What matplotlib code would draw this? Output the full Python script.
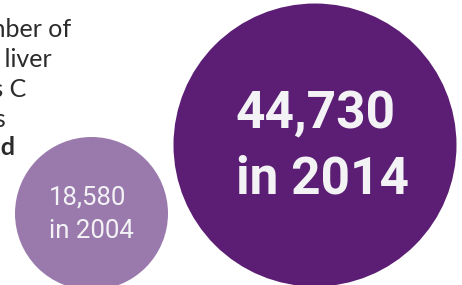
import matplotlib.pyplot as plt
from matplotlib.patches import Circle

# data
years = [2004, 2014]
deaths = [18580, 44730]

# intro text (cut off at left edge in the original)
intro_lines = ["The number of", "deaths from liver", "cancer and hepatitis C", "deaths has", "more than doubled"]
intro_bold = [False, False, False, False, True]

W, H = 462, 285
fig = plt.figure(figsize=(W / 100, H / 100), dpi=100)
ax = fig.add_axes([0, 0, 1, 1])
ax.set_xlim(0, W)
ax.set_ylim(H, 0)
ax.set_aspect('equal')
ax.axis('off')

# layout for each bubble: centre, radius, colour, text style
bubbles = [
    dict(cx=91.5, cy=213.5, r=76.5, color='#9a7aad', tx=49, base=(205, 238),
         size=18.5, weight='normal'),
    dict(cx=315, cy=145, r=141.5, color='#5b1e74', tx=236, base=(128, 193),
         size=37, weight='bold'),
]

for b, yr, n in zip(bubbles, years, deaths):
    ax.add_patch(Circle((b['cx'], b['cy']), b['r'], color=b['color'], lw=0))
    ax.text(b['tx'], b['base'][0], f"{n:,}", ha='left', va='baseline',
            color='#f3f3f6', fontsize=b['size'], fontweight=b['weight'], family='Roboto')
    ax.text(b['tx'], b['base'][1], f"in {yr}", ha='left', va='baseline',
            color='#f3f3f6', fontsize=b['size'], fontweight=b['weight'], family='Roboto')

# left intro text, right ends as visible in the picture
line_ends = [71, 52, 26, 6, 15]
line_base = [37, 67, 97, 127, 155]
for txt, bold, xe, yb in zip(intro_lines, intro_bold, line_ends, line_base):
    ax.text(xe, yb, txt, ha='right', va='baseline', color='#2b2b2b', fontsize=18,
            fontweight='bold' if bold else 'normal', family='Lato')

fig.savefig('out.png', dpi=100)
